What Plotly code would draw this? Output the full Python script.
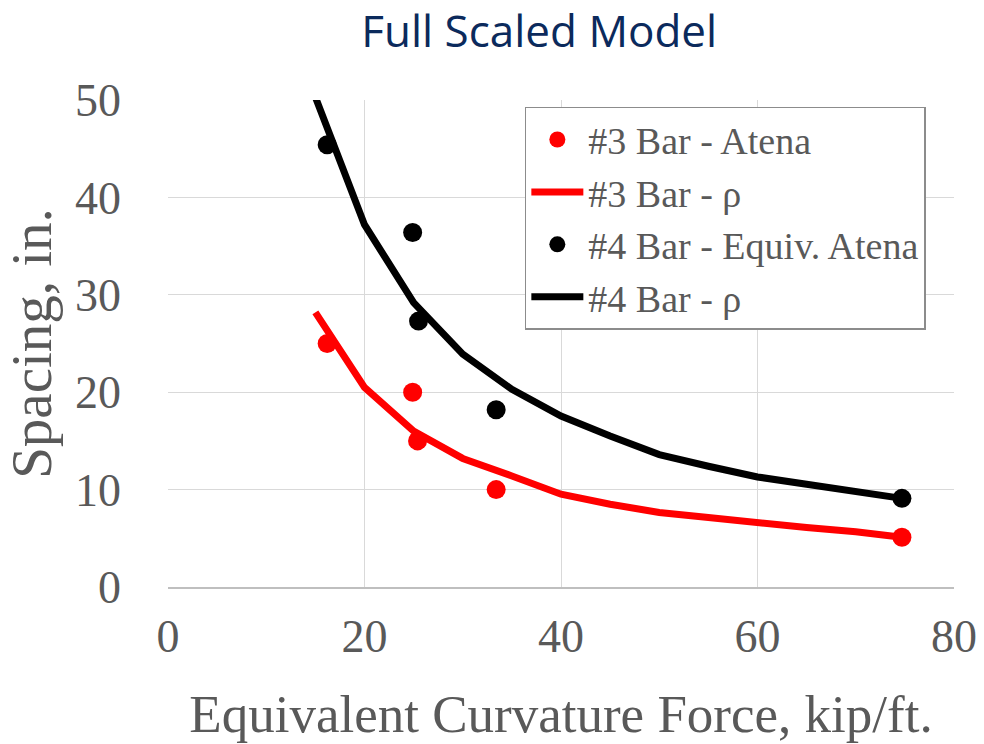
import plotly.graph_objects as go

# Data
atena3_x = [16.2, 24.9, 25.4, 33.4, 74.7]
atena3_y = [25.0, 20.0, 15.0, 10.0, 5.1]
atena4_x = [16.2, 24.9, 25.5, 33.4, 74.7]
atena4_y = [45.4, 36.4, 27.3, 18.2, 9.1]
rho_x = [15, 20, 25, 30, 35, 40, 45, 50, 55, 60, 65, 70, 74.7]
rho3_y = [28.2, 20.5, 16.0, 13.2, 11.4, 9.53, 8.5, 7.65, 7.14, 6.56, 6.1, 5.67, 5.1]
rho4_y = [50.3, 37.2, 29.2, 23.9, 20.3, 17.55, 15.5, 13.6, 12.4, 11.3, 10.55, 9.87, 9.1]

names = ["#3 Bar - Atena", "#3 Bar - ρ", "#4 Bar - Equiv. Atena", "#4 Bar - ρ"]
RED = "#ff0000"
BLACK = "#000000"
GRAY = "#595959"
SERIF = "Liberation Serif, Times New Roman, serif"

fig = go.Figure()
fig.add_trace(go.Scatter(x=rho_x, y=rho3_y, mode="lines", name=names[1],
                         line=dict(color=RED, width=7), legendgroup="b", legendrank=2))
fig.add_trace(go.Scatter(x=rho_x, y=rho4_y, mode="lines", name=names[3],
                         line=dict(color=BLACK, width=7), legendgroup="d", legendrank=4))
fig.add_trace(go.Scatter(x=atena3_x, y=atena3_y, mode="markers", name=names[0],
                         marker=dict(color=RED, size=19), legendgroup="a", legendrank=1))
fig.add_trace(go.Scatter(x=atena4_x, y=atena4_y, mode="markers", name=names[2],
                         marker=dict(color=BLACK, size=19), legendgroup="c", legendrank=3))

fig.update_layout(
    width=984, height=744,
    margin=dict(l=168, r=30, t=100, b=157, autoexpand=False),
    paper_bgcolor="white", plot_bgcolor="white",
    title=dict(text="Full Scaled Model", x=0.548, xanchor="center", y=0.958, yanchor="middle",
               font=dict(family="Open Sans, Noto Sans, sans-serif", size=44, color="#0b2a5c")),
    xaxis=dict(range=[0, 80], tickvals=[0, 20, 40, 60, 80], showgrid=True, gridcolor="#d9d9d9",
               gridwidth=1.3, zeroline=False, showline=True, linecolor="#bfbfbf", linewidth=1.5,
               ticks="", ticklabelstandoff=8, automargin=False,
               tickfont=dict(family=SERIF, size=46, color=GRAY),
               title=dict(text="Equivalent Curvature Force, kip/ft.", standoff=34,
                          font=dict(family=SERIF, size=53, color=GRAY))),
    yaxis=dict(range=[0, 50], tickvals=[0, 10, 20, 30, 40, 50], showgrid=True, gridcolor="#d9d9d9",
               gridwidth=1.3, zeroline=False, ticks="", ticklabelstandoff=46, automargin=False,
               tickfont=dict(family=SERIF, size=46, color=GRAY),
               title=dict(text="Spacing, in.", standoff=14,
                          font=dict(family=SERIF, size=57, color=GRAY))),
    legend=dict(x=0.454, y=0.986, xanchor="left", yanchor="top", bgcolor="white",
                bordercolor="#8c8c8c", borderwidth=1.5, tracegroupgap=0,
                traceorder="grouped", itemwidth=52,
                font=dict(family=SERIF, size=38, color=GRAY)),
    showlegend=True,
)

fig.write_html("out.html")
